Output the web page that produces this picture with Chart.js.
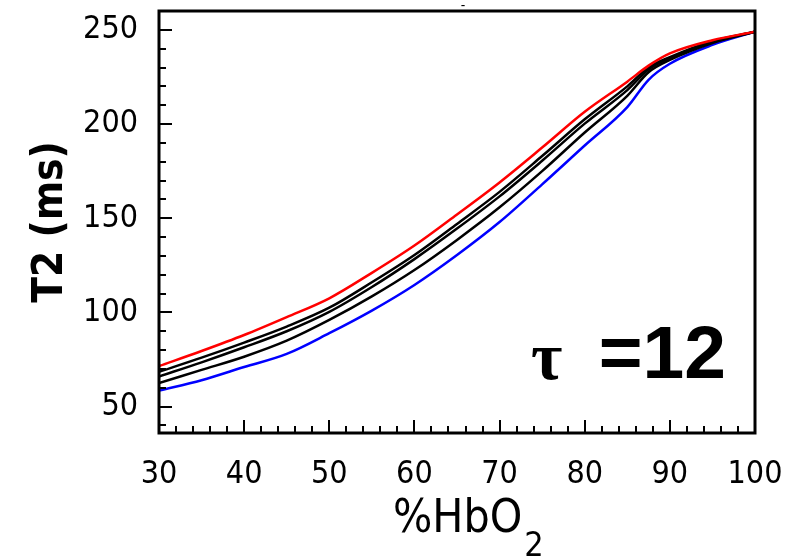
<!DOCTYPE html>
<html>
<head>
<meta charset="utf-8">
<script src="https://cdn.jsdelivr.net/npm/chart.js@4"></script>
<style>
  body { margin: 0; background: #fff; }
  canvas { display: block; }
</style>
</head>
<body>
<canvas id="t2Chart" width="794" height="557"></canvas>
<script>
// %HbO2 sample points
const hbo2 = [30, 35, 40, 45, 50, 55, 60, 65, 70, 75, 80, 85, 87.5, 90, 95, 100];
// T2 curves (ms), top to bottom
const t2Red    = [71.5, 79.5, 88, 97.5, 107.5, 121, 135.5, 152, 169, 187.5, 206.5, 222.5, 231, 237.5, 244.5, 249];
const t2Black1 = [68.5, 76, 84, 92.5, 102.5, 116, 130.5, 147, 164, 183, 202.5, 220, 230, 235.5, 244, 249];
const t2Black2 = [66, 73.5, 81.5, 90, 100.3, 113.5, 128.3, 144.5, 161.6, 180.5, 200.2, 218, 229, 235, 243.5, 249];
const t2Black3 = [62.5, 69.5, 76.5, 85, 96, 108.5, 122.5, 138.5, 155.8, 175, 195.5, 215, 227.5, 234, 243, 249];
const t2Blue   = [58.5, 64, 71, 78, 89, 101, 114.6, 130.5, 148, 168, 188.6, 209, 223.5, 232, 242, 249];

const xTicks = [30, 40, 50, 60, 70, 80, 90, 100];
const yTicks = [50, 100, 150, 200, 250];

const tickFont = "'DejaVu Sans Condensed', 'Liberation Sans Narrow', sans-serif";

function pts(ys) {
  return hbo2.map((x, i) => ({ x: x, y: ys[i] }));
}

function line(ys, color) {
  return {
    data: pts(ys),
    borderColor: color,
    borderWidth: 2.5,
    pointRadius: 0,
    fill: false,
    cubicInterpolationMode: 'monotone'
  };
}

function noPad(s) {
  s.paddingTop = 0;
  s.paddingBottom = 0;
  s.paddingLeft = 0;
  s.paddingRight = 0;
}

// frame, inward ticks, titles and the tau label
const decor = {
  id: 'decor',
  afterDraw(chart) {
    const ctx = chart.ctx;
    const a = chart.chartArea;
    const xs = chart.scales.x;
    const ys = chart.scales.y;
    ctx.save();
    ctx.strokeStyle = '#000';
    ctx.lineWidth = 3;
    ctx.strokeRect(a.left, a.top, a.right - a.left, a.bottom - a.top);

    ctx.lineWidth = 2;
    ctx.beginPath();
    for (let v = 30; v < 100; v += 2) {
      const px = Math.round(xs.getPixelForValue(v));
      const len = v % 10 === 0 ? 13 : 7;
      ctx.moveTo(px, a.bottom);
      ctx.lineTo(px, a.bottom - len);
    }
    for (let v = 40; v < 260; v += 10) {
      const py = Math.round(ys.getPixelForValue(v));
      const len = v % 50 === 0 ? 13 : 7;
      ctx.moveTo(a.left, py);
      ctx.lineTo(a.left + len, py);
    }
    ctx.stroke();

    ctx.fillStyle = '#000';
    // y title
    ctx.save();
    ctx.translate(62, (a.top + a.bottom) / 2);
    ctx.rotate(-Math.PI / 2);
    ctx.textAlign = 'center';
    ctx.textBaseline = 'alphabetic';
    ctx.font = "bold 42px " + tickFont;
    ctx.fillText('T2 (ms)', 0, 0);
    ctx.restore();

    // x title with subscript
    ctx.textBaseline = 'alphabetic';
    ctx.textAlign = 'left';
    ctx.font = '46px ' + tickFont;
    const main = '%HbO';
    const w = ctx.measureText(main).width;
    const x0 = 393;
    ctx.fillText(main, x0, 532);
    ctx.font = '34px ' + tickFont;
    ctx.fillText('2', x0 + w + 2, 556);

    // annotation
    ctx.font = "bold 68px 'Liberation Serif', serif";
    ctx.fillText('\u03c4', 531, 379);
    ctx.textAlign = 'right';
    ctx.font = "bold 75px 'Liberation Sans', Arial, sans-serif";
    ctx.fillText('=12', 726, 378);

    // small mark above the frame
    ctx.textAlign = 'center';
    ctx.font = '14px ' + tickFont;
    ctx.fillText('-', 463, 10);
    ctx.restore();
  }
};

new Chart(document.getElementById('t2Chart'), {
  type: 'line',
  data: {
    datasets: [
      line(t2Red, '#ff0000'),
      line(t2Black1, '#000000'),
      line(t2Black2, '#000000'),
      line(t2Black3, '#000000'),
      line(t2Blue, '#0000ff')
    ]
  },
  options: {
    responsive: false,
    animation: false,
    layout: { autoPadding: false, padding: { top: 11, right: 39, left: 0, bottom: 0 } },
    plugins: { legend: { display: false }, tooltip: { enabled: false } },
    scales: {
      x: {
        type: 'linear',
        min: 30,
        max: 100,
        afterBuildTicks: s => { s.ticks = xTicks.map(v => ({ value: v })); },
        afterFit: s => { s.height = 124; noPad(s); },
        grid: { display: false, drawTicks: false },
        border: { display: false },
        ticks: {
          color: '#000',
          padding: 22,
          maxRotation: 0,
          font: { family: tickFont, size: 32 }
        }
      },
      y: {
        type: 'linear',
        min: 36,
        max: 260,
        afterBuildTicks: s => { s.ticks = yTicks.map(v => ({ value: v })); },
        afterFit: s => { s.width = 159; noPad(s); },
        grid: { display: false, drawTicks: false },
        border: { display: false },
        ticks: {
          color: '#000',
          padding: 21,
          font: { family: tickFont, size: 32 }
        }
      }
    }
  },
  plugins: [decor]
});
</script>
</body>
</html>
